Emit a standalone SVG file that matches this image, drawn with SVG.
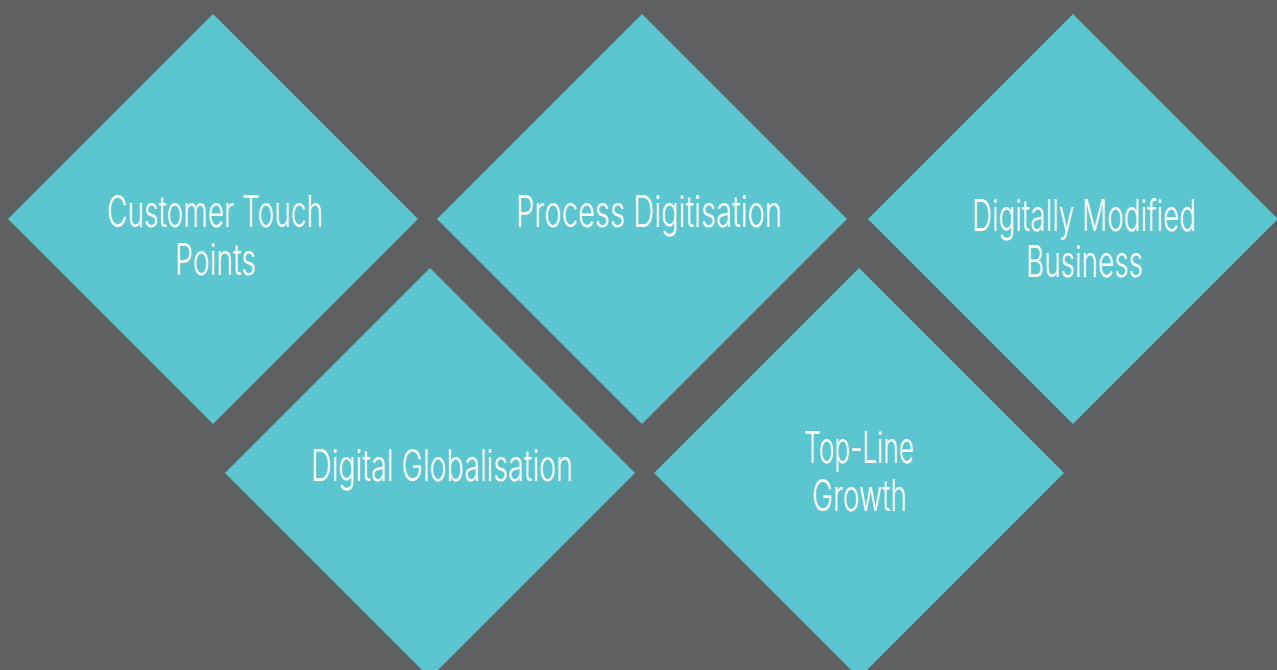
<svg xmlns="http://www.w3.org/2000/svg" width="1277" height="670" viewBox="0 0 1277 670">
<style>
.d{fill:#5bc6cf}
.t{fill:#ffffff;font-family:Inter,"DejaVu Sans",sans-serif;font-weight:300;font-size:43px}
</style>
<rect width="1277" height="670" fill="#5f6062"/>
<g id="customer-touch-points">
<polygon class="d" points="213,14 418,219 213,424 8,219"/>
<text class="t" x="107" y="227" textLength="216" lengthAdjust="spacingAndGlyphs">Customer Touch</text>
<text class="t" x="175" y="275" textLength="81" lengthAdjust="spacingAndGlyphs">Points</text>
</g>
<g id="process-digitisation">
<polygon class="d" points="642,14 847,219 642,424 437,219"/>
<text class="t" x="516" y="227" textLength="266" lengthAdjust="spacingAndGlyphs">Process Digitisation</text>
</g>
<g id="digitally-modified-business">
<polygon class="d" points="1073,14 1278,219 1073,424 868,219"/>
<text class="t" x="972" y="231" textLength="224" lengthAdjust="spacingAndGlyphs">Digitally Modified</text>
<text class="t" x="1026" y="277" textLength="117" lengthAdjust="spacingAndGlyphs">Business</text>
</g>
<g id="digital-globalisation">
<polygon class="d" points="430,268 635,473 430,678 225,473"/>
<text class="t" x="311" y="481" textLength="262" lengthAdjust="spacingAndGlyphs">Digital Globalisation</text>
</g>
<g id="top-line-growth">
<polygon class="d" points="859,268 1064,473 859,678 654,473"/>
<text class="t" x="804" y="463" textLength="110" lengthAdjust="spacingAndGlyphs">Top-Line</text>
<text class="t" x="812" y="511" textLength="95" lengthAdjust="spacingAndGlyphs">Growth</text>
</g>
<g id="connectors"/>
</svg>
